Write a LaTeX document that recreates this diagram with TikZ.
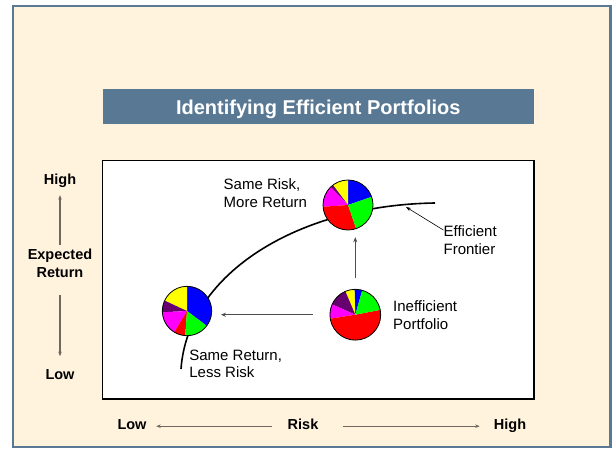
\documentclass[tikz,border=0pt]{standalone}
\usepackage{fontspec}
\setmainfont{Liberation Sans}
\usetikzlibrary{arrows.meta,positioning,calc}
\definecolor{slate}{RGB}{89,120,148}
\definecolor{cream}{RGB}{255,243,222}
\definecolor{axgray}{RGB}{112,104,94}
\definecolor{pblue}{RGB}{0,0,255}
\definecolor{pgreen}{RGB}{0,255,0}
\definecolor{pred}{RGB}{255,0,0}
\definecolor{pyellow}{RGB}{255,255,0}
\definecolor{pmagenta}{RGB}{255,0,255}
\definecolor{ppurple}{RGB}{102,0,110}
\tikzset{
  lbl/.style={font=\fontsize{15}{17.5}\selectfont, align=left, inner sep=0pt, anchor=west},
  axlbl/.style={font=\fontsize{14.5}{18}\selectfont\bfseries, align=center, inner sep=0pt},
  axend/.style={axlbl, text height=10.5pt, text depth=3pt},
  arr/.style={-{Stealth[length=5pt,width=4pt]}, color=black!70, line width=0.9pt},
  ptr/.style={-{Stealth[length=5pt,width=3.5pt]}, color=black, line width=0.6pt},
  axarr/.style={-{Stealth[length=4.5pt,width=3.5pt]}, color=axgray, line width=1.4pt},
  piebox/.style={circle, minimum size=50pt, inner sep=0pt},
  frontier/.style={line width=1.6pt, black},
}
% slices of a pie: node, radius, list start/end/colour
\newcommand\pfpie[3]{%
  \begin{scope}[x=1pt,y=1pt]
    \foreach \sa/\ea/\col in {#3}
      \fill[fill=\col] (#1.center) -- ++(\sa:#2) arc[start angle=\sa, end angle=\ea, radius=#2] -- cycle;
    \draw[line width=0.8pt] (#1.center) circle[radius=#2];
  \end{scope}}

\begin{document}
\begin{tikzpicture}[x=1pt,y=-1pt]
  \useasboundingbox (0,0) rectangle (615,448);
  \draw[slate, line width=2.3pt, fill=cream] (12.8,6) rectangle (610.5,446.7);

  % title bar
  \node[fill=slate, text=white, font=\fontsize{20}{24}\selectfont\bfseries,
        minimum width=431.5pt, minimum height=35pt, inner sep=0pt,
        text height=16pt, text depth=0pt] (title) at (318.25,106.5) {Identifying Efficient Portfolios};

  % plot area
  \draw[fill=white, line width=1.5pt] (102.5,160.7) rectangle (534,399);
  \draw[frontier] (181,369) .. controls (188,272) and (300,205) .. (435,203);
  \coordinate (frontpt) at (406,207);

  \node[piebox] (tpie) at (348,205) {};
  \node[piebox] (lpie) at (187,311) {};
  \node[piebox] (ipie) at (355.3,314.7) {};
  \pfpie{tpie}{25}{19/90/pblue, 90/127/pyellow, 127/134/ppurple, 134/184/pmagenta, 184/289/pred, 289/379/pgreen}
  \pfpie{lpie}{24.7}{-37/90/pblue, 90/155/pyellow, 155/183/ppurple, 183/239/pmagenta, 239/266/pred, 266/323/pgreen}
  \pfpie{ipie}{25.4}{74/92/pblue, 92/113/pyellow, 113/156/ppurple, 156/189/pmagenta, 189/371/pred, 11/74/pgreen}

  \node[lbl] (lblsrisk) at (223.5,193) {Same Risk,\\More Return};
  \node[lbl] (lblfront) at (443.4,240) {Efficient\\Frontier};
  \node[lbl] (lblineff) at (393,315) {Inefficient\\Portfolio};
  \node[lbl] (lblsret) at (189.2,364) {Same Return,\\Less Risk};

  \draw[arr, shorten <=11.5pt, shorten >=7pt] (ipie.north) -- (ipie.north |- tpie.south);
  \draw[arr, shorten <=17pt, shorten >=8.7pt] (ipie.west) -- (ipie.west -| lpie.east);
  \draw[ptr] ([yshift=-4.5pt]lblfront.north west) -- (frontpt);

  % return axis
  \node[axend] (yhigh) at (60,181.2) {High};
  \node[axlbl] (yret) at (60,263.5) {Expected\\Return};
  \node[axend] (ylow) at (60,376.2) {Low};
  \draw[axarr, shorten <=4pt, shorten >=7pt] (yret) -- (yhigh);
  \draw[axarr, shorten <=17pt, shorten >=13pt] (yret) -- (ylow);

  % risk axis
  \node[axend] (xlow) at (132,426.2) {Low};
  \node[axend] (xrisk) at (303,426.2) {Risk};
  \node[axend] (xhigh) at (510,426.2) {High};
  \draw[axarr, shorten <=15.5pt, shorten >=9.5pt] (xrisk) -- (xlow);
  \draw[axarr, shorten <=24.5pt, shorten >=14pt] (xrisk) -- (xhigh);
\end{tikzpicture}
\end{document}
